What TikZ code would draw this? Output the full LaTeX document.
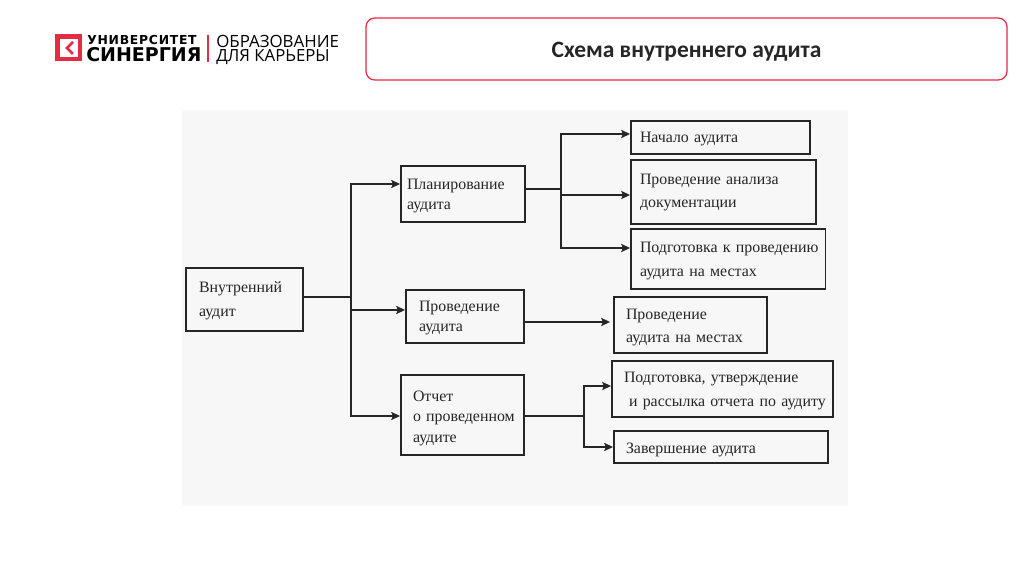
\documentclass[tikz,border=0pt]{standalone}
\usepackage{fontspec}
\setmainfont{Liberation Serif}[WordSpace=0.7]
\newfontfamily\titlefont{Carlito}
\newfontfamily\logofont{DejaVu Sans}
\newfontfamily\logospaced{DejaVu Sans}[LetterSpace=6]
\newfontfamily\logothin{Open Sans}
\usetikzlibrary{positioning,arrows.meta}
\definecolor{brand}{HTML}{E62B45}
\definecolor{ink}{HTML}{262626}

\begin{document}
\begin{tikzpicture}[
    x=0.25mm, y=-0.25mm,
    font=\fontsize{11.3}{14.6}\selectfont,
    box/.style n args={3}{draw=ink, line width=1.3pt, fill=white!97!black,
                minimum height=#2*0.25mm, inner xsep=0pt, inner ysep=0pt,
                text width=#1*0.25mm, align=left, text=ink,
                execute at begin node={\leftskip=#3\dimexpr 0.25mm\relax\rule{0pt}{10pt}}},
    link/.style={draw=ink, line width=1.3pt},
    flow/.style={link, -{Stealth[length=2.2mm, width=2mm, inset=0.4mm]}},
    logotxt/.style={anchor=west, inner sep=0pt, text=black},
  ]
  \useasboundingbox (0,0) rectangle (1024,574);

  % --- Header -------------------------------------------------------------
  \node[draw=brand, line width=0.9pt, rounded corners=2.2mm, minimum width=160.25mm,
        minimum height=15.5mm, font=\titlefont\bfseries\fontsize{16.7}{18}\selectfont,
        text=ink] (title) at (686.5,49) {\rule{0pt}{15pt}Схема внутреннего аудита};

  \node[fill=brand, minimum size=6.75mm, inner sep=0pt] (logo) at (68.5,48) {};
  \node[fill=white, minimum size=4.5mm, inner sep=0pt] (logoin) at (logo) {};
  \draw[brand, line width=2pt] (73,42) -- (67,48) -- (73,54);
  \node[logotxt, font=\logospaced\bfseries\fontsize{8.8}{9}\selectfont] (uni) at (87,40)
    {УНИВЕРСИТЕТ};
  \node[logotxt, font=\logofont\bfseries\fontsize{13.5}{14}\selectfont] (syn) at (86,55)
    {СИНЕРГИЯ};
  \draw[brand, line width=0.8pt] (208,35) -- (208,62);
  \node[logotxt, font=\logothin\fontsize{12}{13}\selectfont] (edu) at (216,41)
    {ОБРАЗОВАНИЕ};
  \node[logotxt, font=\logothin\fontsize{11.9}{13}\selectfont] (car) at (216,57.5)
    {ДЛЯ КАРЬЕРЫ};

  % --- Scan background ----------------------------------------------------
  \fill[white!97!black] (182,110) rectangle (848,506);

  % --- Root and stages ----------------------------------------------------
  \node[box={117}{63}{13}] (audit) at (244.5,299.5) {Внутренний\\[0.85mm]аудит};
  \node[box={124}{56}{6}] (plan) at (463,194) {Планирование\\аудита\rule[-0.5mm]{0pt}{0pt}};
  \node[box={118}{53}{13}] (cond) at (465,316.5) {Проведение\\аудита\rule[-1mm]{0pt}{0pt}};
  \node[box={123}{80}{12}] (rep) at (462.5,415) {\rule{0pt}{12pt}Отчет\\о проведенном\\аудите};

  % --- Results ------------------------------------------------------------
  \node[box={179}{33}{9}] (start) at (720.5,137.5) {Начало аудита};
  \node[box={185}{64}{9}] (docs) at (723.5,192) {Проведение анализа\\[0.8mm]документации\rule[-1.5mm]{0pt}{0pt}};
  \node[box={194.5}{60}{9}] (prep) at (728.25,259) {Подготовка к проведению\\[0.8mm]аудита на местах};
  \node[box={153}{56}{12}] (site) at (690.5,325) {\rule{0pt}{11pt}Проведение\\[0.8mm]аудита на местах};
  \node[box={221}{56}{12}] (mail) at (722.5,389) {Подготовка, утверждение\\[0.8mm]\hspace*{1.25mm}и рассылка отчета по аудиту};
  \node[box={214}{32}{12}] (finish) at (721,447) {\rule{0pt}{11pt}Завершение аудита};

  % --- Arrows -------------------------------------------------------------
  \coordinate (trunk) at (351,297);
  \coordinate (planfork) at (561,189);
  \coordinate (repfork) at (584,416);

  \draw[link] (audit.east |- trunk) -- (trunk);
  \draw[flow] (trunk) |- ([yshift=2.5mm]plan.west);
  \draw[flow] (trunk) |- ([yshift=1.625mm]cond.west);
  \draw[flow] (trunk) |- ([yshift=-0.25mm]rep.west);

  \draw[link] (plan.east |- planfork) -- (planfork);
  \draw[flow] (planfork) |- ([yshift=0.875mm]start.west);
  \draw[flow] (planfork) |- ([yshift=-0.75mm]docs.west);
  \draw[flow] (planfork) |- ([yshift=2.75mm]prep.west);

  \draw[flow] ([yshift=-1.375mm]cond.east) -- ([xshift=-0.75mm,yshift=0.75mm]site.west);

  \draw[link] (rep.east |- repfork) -- (repfork);
  \draw[flow] (repfork) |- ([yshift=0.75mm]mail.west);
  \draw[flow] (repfork) |- (finish.west);

\end{tikzpicture}
\end{document}
